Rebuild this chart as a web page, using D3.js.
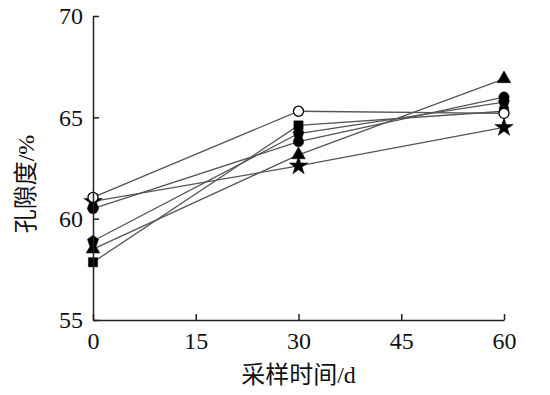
<!DOCTYPE html>
<html>
<head>
<meta charset="utf-8">
<script src="https://cdn.jsdelivr.net/npm/d3@7"></script>
<style>
  body { margin: 0; background: #fff; }
  text { font-family: "Liberation Serif", "Noto Sans CJK SC", serif; }
</style>
</head>
<body>
<div id="chart"></div>
<script>
// sampling days and porosity (%) per treatment
const days = [0, 30, 60];
const openCircle = [61.05, 65.3, 65.2];
const star = [60.85, 62.6, 64.5];
const filledCircle = [60.5, 63.8, 66.0];
const pentagon = [58.9, 64.2, 65.75];
const triangle = [58.5, 63.15, 66.9];
const square = [57.85, 64.6, 65.3];
const xTicks = [0, 15, 30, 45, 60];
const yTicks = [55, 60, 65, 70];

const margin = {top: 16, right: 46, bottom: 75, left: 93};
const width = 550 - margin.left - margin.right;
const height = 395 - margin.top - margin.bottom;

// star first so the circles at day 0 sit on top of it
const series = [
  {name: 'star', values: star},
  {name: 'square', values: square},
  {name: 'triangle', values: triangle},
  {name: 'pentagon', values: pentagon},
  {name: 'filledCircle', values: filledCircle},
  {name: 'openCircle', values: openCircle}
];

const svg = d3.select('#chart')
  .append('svg')
  .attr('width', 550)
  .attr('height', 395)
  .append('g')
  .attr('transform', `translate(${margin.left},${margin.top})`);

const x = d3.scaleLinear().domain([0, 60]).range([0, width]);
const y = d3.scaleLinear().domain([55, 70]).range([height, 0]);

const line = d3.line()
  .x((d, i) => x(days[i]))
  .y(d => y(d));

svg.selectAll('.series-line')
  .data(series)
  .join('path')
  .attr('class', 'series-line')
  .attr('d', d => line(d.values))
  .attr('fill', 'none')
  .attr('stroke', '#555')
  .attr('stroke-width', 1.3);

const symbols = {
  square: d3.symbolSquare,
  triangle: d3.symbolTriangle,
  filledCircle: d3.symbolCircle,
  star: d3.symbolStar,
  openCircle: d3.symbolCircle
};
const sizes = {square: 85, triangle: 80, filledCircle: 85, star: 105, openCircle: 80};

// pentagon marker
function pentagonPath(r) {
  const pts = d3.range(5).map(k => {
    const a = -Math.PI / 2 + k * 2 * Math.PI / 5;
    return [r * Math.cos(a), r * Math.sin(a)];
  });
  return 'M' + pts.map(p => p.join(',')).join('L') + 'Z';
}

series.forEach(s => {
  svg.selectAll(`.m-${s.name}`)
    .data(s.values)
    .join('path')
    .attr('class', `m-${s.name}`)
    .attr('transform', (d, i) => `translate(${x(days[i])},${y(d)})`)
    .attr('d', s.name === 'pentagon' ? pentagonPath(5.8) : d3.symbol(symbols[s.name], sizes[s.name])())
    .attr('fill', s.name === 'openCircle' ? '#fff' : '#000')
    .attr('stroke', '#000')
    .attr('stroke-width', s.name === 'openCircle' ? 1.3 : 0.5);
});

const xAxis = svg.append('g')
  .attr('transform', `translate(0,${height})`)
  .call(d3.axisBottom(x).tickValues(xTicks).tickSize(-6).tickSizeOuter(0).tickPadding(12));
const yAxis = svg.append('g')
  .call(d3.axisLeft(y).tickValues(yTicks).tickSize(-6).tickSizeOuter(0).tickPadding(10));

[xAxis, yAxis].forEach(a => {
  a.select('.domain').attr('stroke', '#222').attr('stroke-width', 1.5);
  a.selectAll('.tick line').attr('stroke', '#222').attr('stroke-width', 1.5);
  a.selectAll('.tick text')
    .attr('fill', '#111')
    .style('font-family', '"Liberation Serif", serif')
    .style('font-size', '24px');
});

svg.append('text')
  .attr('x', width / 2)
  .attr('y', height + 63)
  .attr('text-anchor', 'middle')
  .style('font-size', '24px')
  .attr('fill', '#111')
  .text('采样时间/d');

svg.append('text')
  .attr('transform', `translate(${-margin.left + 34},${height / 2 + 16})rotate(-90)`)
  .attr('text-anchor', 'middle')
  .style('font-size', '24px')
  .attr('fill', '#111')
  .text('孔隙度/%');
</script>
</body>
</html>
